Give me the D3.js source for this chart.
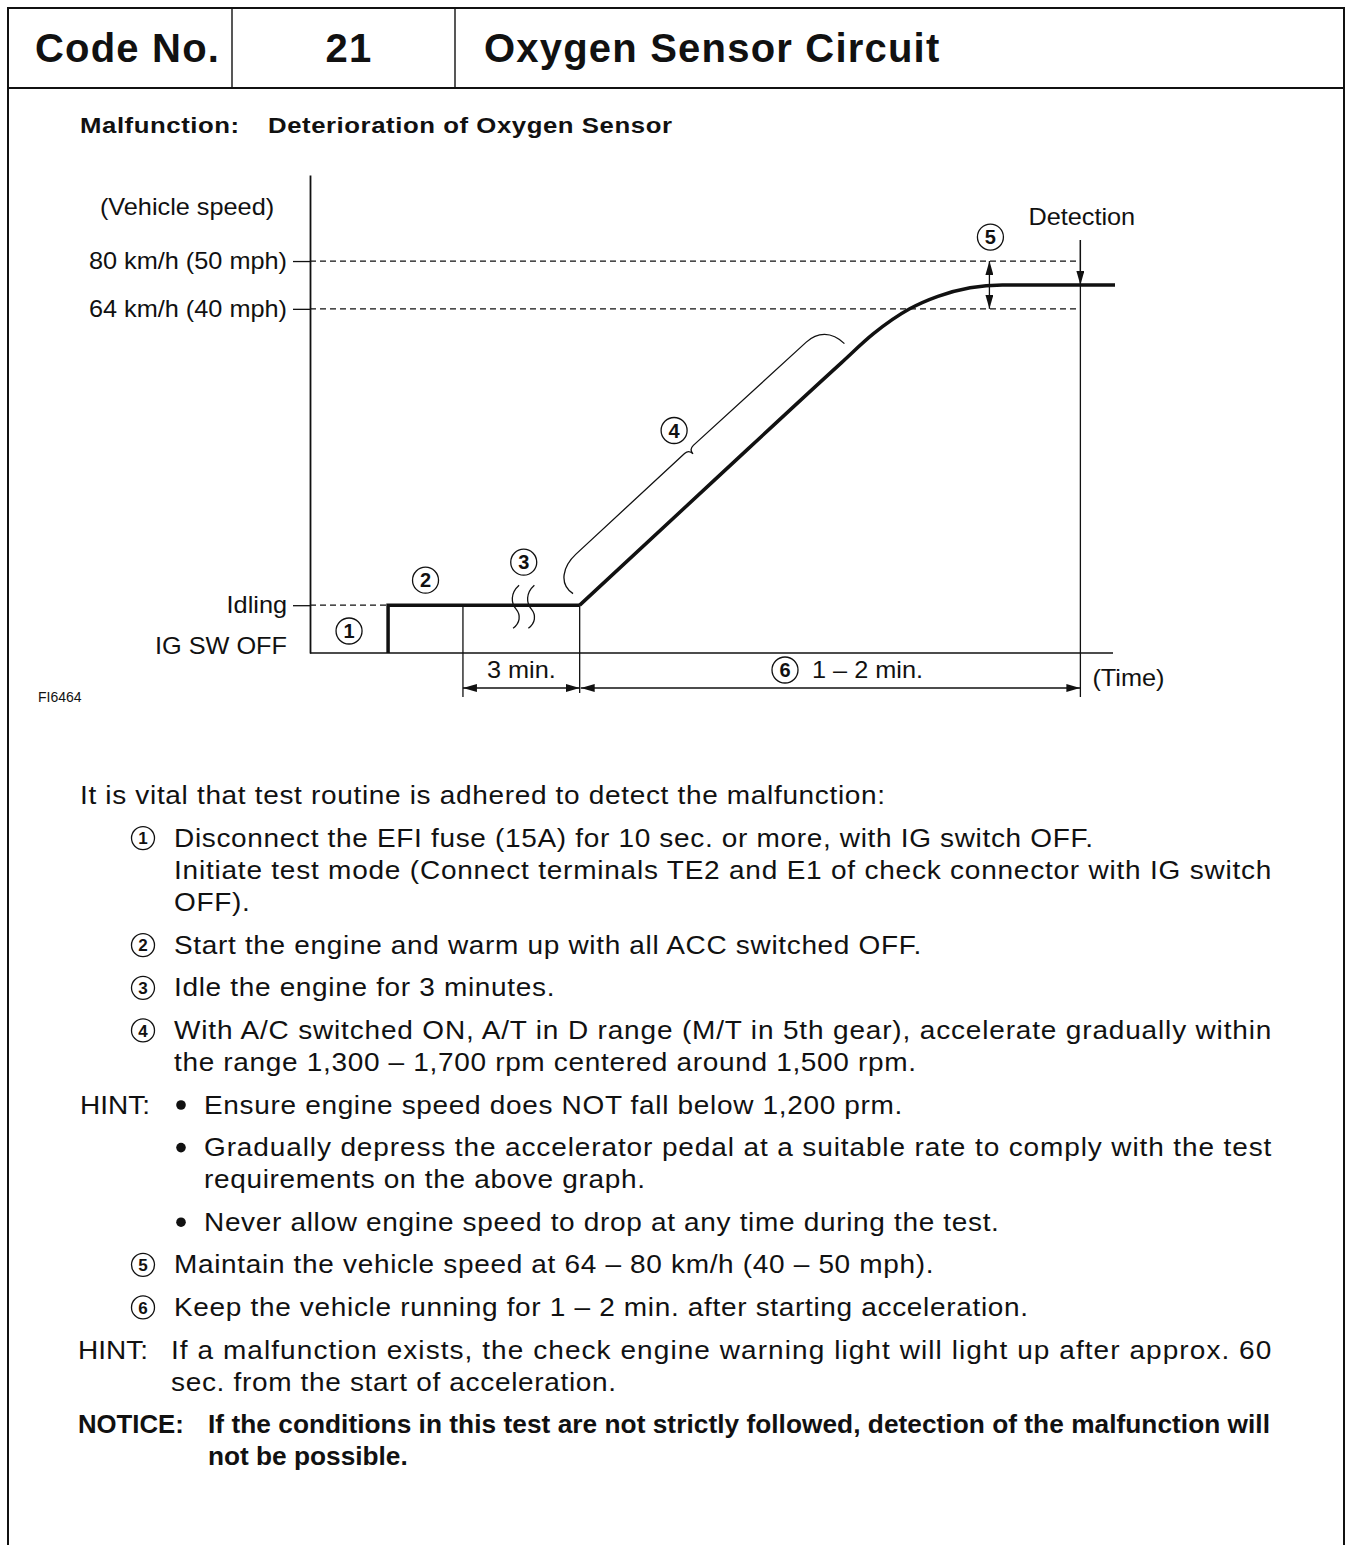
<!DOCTYPE html>
<html>
<head>
<meta charset="utf-8">
<title>Code No. 21 - Oxygen Sensor Circuit</title>
<script src="https://cdn.jsdelivr.net/npm/d3@7"></script>
<style>
body { margin: 0; background: #fff; }
svg text { font-family: "Liberation Sans", Arial, Helvetica, sans-serif; fill: #111; }
</style>
</head>
<body>
<div id="page"></div>
<script>
// ---- chart values (time and speed level are schematic units, 0-100) ----
var speedLabels = ["Idling", "64 km/h (40 mph)", "80 km/h (50 mph)"];
var speedLevels = [10, 72, 82];
var offLabel = "IG SW OFF";
var idleLevel = 10;

var startTime = 9.7;      // engine started
var idleMarkTime = 19;    // 3 min idle starts
var breakTimes = [25.6, 27.5];
var accelTime = 33.5;     // acceleration starts
var bandTime = 84.4;      // (5) arrows
var detectTime = 95.7;    // detection

var stepTime = [startTime, startTime, accelTime];
var stepLevel = [0, idleLevel, idleLevel];

var rampTime = [33.5, 50, 66, 70, 74.5, 78, 82, 86, 100];
var rampLevel = [10, 35.8, 60.7, 66.8, 72, 74.6, 76.4, 77, 77];

var durationLabels = ["3 min.", "1 – 2 min."];

// ---- text ----
var headCode = "Code No.";
var headNumber = "21";
var headTitle = "Oxygen Sensor Circuit";
var malfLabel = "Malfunction:";
var malfText = "Deterioration of Oxygen Sensor";
var figId = "FI6464";

var paragraphs = [
  {kind: "intro", lines: ["It is vital that test routine is adhered to detect the malfunction:"]},
  {kind: "step", mark: "1", lines: ["Disconnect the EFI fuse (15A) for 10 sec. or more, with IG switch OFF."]},
  {kind: "cont", lines: ["Initiate test mode (Connect terminals TE2 and E1 of check connector with IG switch", "OFF)."]},
  {kind: "step", mark: "2", lines: ["Start the engine and warm up with all ACC switched OFF."]},
  {kind: "step", mark: "3", lines: ["Idle the engine for 3 minutes."]},
  {kind: "step", mark: "4", lines: ["With A/C switched ON, A/T in D range (M/T in 5th gear), accelerate gradually within", "the range 1,300 – 1,700 rpm centered around 1,500 rpm."]},
  {kind: "bullet", label: "HINT:", lines: ["Ensure engine speed does NOT fall below 1,200 prm."]},
  {kind: "bullet", lines: ["Gradually depress the accelerator pedal at a suitable rate to comply with the test", "requirements on the above graph."]},
  {kind: "bullet", lines: ["Never allow engine speed to drop at any time during the test."]},
  {kind: "step", mark: "5", lines: ["Maintain the vehicle speed at 64 – 80 km/h (40 – 50 mph)."]},
  {kind: "step", mark: "6", lines: ["Keep the vehicle running for 1 – 2 min. after starting acceleration."]},
  {kind: "hint", label: "HINT:", lines: ["If a malfunction exists, the check engine warning light will light up after approx. 60", "sec. from the start of acceleration."]},
  {kind: "notice", label: "NOTICE:", lines: ["If the conditions in this test are not strictly followed, detection of the malfunction will", "not be possible."]}
];

// ---- page ----
var W = 1352, H = 1545;
var ink = "#111";
var svg = d3.select("#page").append("svg").attr("width", W).attr("height", H);
svg.append("rect").attr("width", W).attr("height", H).attr("fill", "#fff");

var defs = svg.append("defs");
defs.append("marker")
    .attr("id", "arrow")
    .attr("viewBox", "0 0 14 8")
    .attr("refX", 14).attr("refY", 4)
    .attr("markerWidth", 14).attr("markerHeight", 8)
    .attr("markerUnits", "userSpaceOnUse")
    .attr("orient", "auto-start-reverse")
    .append("path").attr("d", "M0,0L14,4L0,8z").attr("fill", ink);

// text helper: the scanned type is wider than Liberation Sans, so stretch it a bit
function label(g, tx, ty, str, sx, ls) {
    return g.append("text")
        .attr("transform", "translate(" + tx + "," + ty + ") scale(" + sx + ",1)")
        .style("letter-spacing", ls + "px")
        .text(str);
}

// frame and header
var frame = svg.append("g").attr("stroke", ink).attr("fill", "none");
frame.append("path").attr("d", "M8,1545V8H1344V1545").attr("stroke-width", 2);
frame.append("line").attr("x1", 8).attr("x2", 1344).attr("y1", 88).attr("y2", 88).attr("stroke-width", 2);
[232, 455].forEach(function (xx) {
    frame.append("line").attr("x1", xx).attr("x2", xx).attr("y1", 8).attr("y2", 88).attr("stroke-width", 1.4);
});

var head = svg.append("g").attr("font-weight", "bold").attr("font-size", 40);
label(head, 35, 62, headCode, 1, 1.2);
label(head, 349, 62, headNumber, 1, 1.2).attr("text-anchor", "middle");
label(head, 484, 62, headTitle, 1, 1.2);

var malf = svg.append("g").attr("font-weight", "bold").attr("font-size", 23);
label(malf, 80, 133, malfLabel, 1.12, 0.5);
label(malf, 268, 133, malfText, 1.12, 0.5);

// ---- chart ----
var x = d3.scaleLinear().domain([0, 100]).range([310, 1115]);
var y = d3.scaleLinear().domain([0, 100]).range([653, 175]);
var chart = svg.append("g");
var labelFont = 23, labelSx = 1.1;

// reference dashed lines
var dashes = chart.append("g").attr("stroke", ink).attr("stroke-width", 1.2).attr("stroke-dasharray", "6,4");
speedLevels.forEach(function (lv) {
    var endT = lv === idleLevel ? startTime : detectTime;
    dashes.append("line")
        .attr("x1", x(0)).attr("x2", x(endT))
        .attr("y1", y(lv)).attr("y2", y(lv));
});

// y axis
var yAxis = d3.axisLeft(y)
    .tickValues(speedLevels)
    .tickFormat(function (d, i) { return speedLabels[i]; })
    .tickSize(17).tickPadding(6).tickSizeOuter(0);
var gy = chart.append("g").attr("transform", "translate(" + x(0) + ",0)").call(yAxis);
gy.select(".domain").attr("stroke", ink).attr("stroke-width", 1.8);
gy.selectAll(".tick line").attr("stroke", ink).attr("stroke-width", 1.3);
gy.selectAll(".tick text")
    .attr("font-size", labelFont).attr("fill", ink)
    .attr("font-family", "Liberation Sans, Arial, sans-serif")
    .attr("x", -23 / labelSx)
    .attr("transform", "scale(" + labelSx + ",1)");

// x axis (no ticks)
var xAxis = d3.axisBottom(x).tickValues([]).tickSizeOuter(0);
var gx = chart.append("g").attr("transform", "translate(0," + y(0) + ")").call(xAxis);
gx.select(".domain").attr("stroke", ink).attr("stroke-width", 1.5).attr("d", "M" + x(0) + ",0H" + (x(100) - 2));

// axis captions
var cap = chart.append("g").attr("font-size", labelFont);
label(cap, 187, 215, "(Vehicle speed)", labelSx, 0).attr("text-anchor", "middle");
label(cap, 287, y(0) + 1, offLabel, labelSx, 0).attr("text-anchor", "end");
label(cap, x(detectTime) - 52, 225, "Detection", labelSx, 0);
label(cap, x(detectTime) + 12, 686, "(Time)", labelSx, 0);
label(cap, (x(idleMarkTime) + x(accelTime)) / 2, 678, durationLabels[0], labelSx, 0).attr("text-anchor", "middle");
label(cap, 812, 678, durationLabels[1], labelSx, 0);
svg.append("text").attr("x", 38).attr("y", 702).attr("font-size", 14).text(figId);

// extension lines
var thin = chart.append("g").attr("stroke", ink).attr("stroke-width", 1.3).attr("fill", "none");
thin.append("line").attr("x1", x(idleMarkTime)).attr("x2", x(idleMarkTime)).attr("y1", y(idleLevel)).attr("y2", 697);
thin.append("line").attr("x1", x(accelTime)).attr("x2", x(accelTime)).attr("y1", y(idleLevel)).attr("y2", 693);
thin.append("line").attr("x1", x(detectTime)).attr("x2", x(detectTime)).attr("y1", 240).attr("y2", 697);

// arrows
thin.append("line").attr("x1", x(detectTime)).attr("x2", x(detectTime))
    .attr("y1", 240).attr("y2", y(77)).attr("marker-end", "url(#arrow)");
thin.append("line").attr("x1", x(bandTime)).attr("x2", x(bandTime))
    .attr("y1", y(77)).attr("y2", y(82)).attr("marker-end", "url(#arrow)");
thin.append("line").attr("x1", x(bandTime)).attr("x2", x(bandTime))
    .attr("y1", y(77)).attr("y2", y(72)).attr("marker-end", "url(#arrow)");
thin.append("line").attr("x1", x(idleMarkTime)).attr("x2", x(accelTime))
    .attr("y1", 688).attr("y2", 688)
    .attr("marker-start", "url(#arrow)").attr("marker-end", "url(#arrow)");
thin.append("line").attr("x1", x(accelTime) + 1).attr("x2", x(detectTime))
    .attr("y1", 688).attr("y2", 688)
    .attr("marker-start", "url(#arrow)").attr("marker-end", "url(#arrow)");

// speed trace
var stepLine = d3.line()
    .x(function (d, i) { return x(stepTime[i]); })
    .y(function (d, i) { return y(stepLevel[i]); });
chart.append("path").datum(stepTime)
    .attr("d", stepLine).attr("fill", "none").attr("stroke", ink)
    .attr("stroke-width", 3.5).attr("stroke-linejoin", "miter");

var rampLine = d3.line()
    .x(function (d, i) { return x(rampTime[i]); })
    .y(function (d, i) { return y(rampLevel[i]); })
    .curve(d3.curveMonotoneX);
chart.append("path").datum(rampTime)
    .attr("d", rampLine).attr("fill", "none").attr("stroke", ink)
    .attr("stroke-width", 3.5).attr("stroke-linecap", "butt");

// break marks on the idle line
breakTimes.forEach(function (t) {
    var bx = x(t), by = y(idleLevel);
    thin.append("path")
        .attr("d", "M" + (bx + 3) + "," + (by - 20) +
            "C" + (bx - 6) + "," + (by - 12) + " " + (bx - 5) + "," + (by - 2) + " " + bx + "," + (by + 4) +
            "S" + (bx + 4) + "," + (by + 18) + " " + (bx - 3) + "," + (by + 23));
});

// brace along the ramp (drawn in a frame rotated to the ramp)
var rx0 = x(rampTime[0]), ry0 = y(rampLevel[0]);
var rx1 = x(rampTime[2]), ry1 = y(rampLevel[2]);
var ang = Math.atan2(ry1 - ry0, rx1 - rx0) * 180 / Math.PI;
var brace = chart.append("g").attr("transform", "translate(" + rx0 + "," + ry0 + ") rotate(" + ang + ")");
brace.append("path")
    .attr("fill", "none").attr("stroke", ink).attr("stroke-width", 1.3)
    .attr("d", "M3,-13C-1,-30 14,-40 32,-40L180,-40Q186,-40 186,-34Q186,-40 192,-40L345,-39C360,-39 371,-30 372,-12");

// numbered circles
function circledNumber(g, cx, cy, r, fs, n) {
    g.append("circle").attr("cx", cx).attr("cy", cy).attr("r", r)
        .attr("fill", "#fff").attr("stroke", ink).attr("stroke-width", 1.3);
    g.append("text").attr("x", cx).attr("y", cy).attr("dy", "0.36em")
        .attr("text-anchor", "middle").attr("font-size", fs).attr("font-weight", "bold")
        .style("letter-spacing", "0px").text(n);
}
var marks = chart.append("g");
circledNumber(marks, (x(0) + x(startTime)) / 2, y(4.6), 13, 20, "1");
circledNumber(marks, (x(startTime) + x(idleMarkTime)) / 2, y(idleLevel) - 25, 13, 20, "2");
circledNumber(marks, (x(breakTimes[0]) + x(breakTimes[1])) / 2, y(idleLevel) - 43, 13, 20, "3");
var a = ang * Math.PI / 180;
circledNumber(marks, rx0 + 188 * Math.cos(a) + 64 * Math.sin(a), ry0 + 188 * Math.sin(a) - 64 * Math.cos(a), 13, 20, "4");
circledNumber(marks, x(bandTime) + 1, y(82) - 24, 13, 20, "5");
circledNumber(marks, 785, 670, 13, 20, "6");

// ---- instructions ----
var body = svg.append("g").attr("font-size", 25);
var bodySx = 1.12, bodyLs = 0.6;
var yy = 804;
var rightEdge = 1272;
paragraphs.forEach(function (p, pi) {
    if (pi > 0) yy += (p.kind === "cont") ? 32.5 : 42.6;
    var tx = 174;
    var bold = false;
    if (p.kind === "intro") tx = 80;
    if (p.kind === "step") {
        circledNumber(body, 143, yy - 8.5, 11.5, 17, p.mark);
    }
    if (p.kind === "bullet") {
        tx = 204;
        if (p.label) label(body, 80, yy, p.label, bodySx, 0);
        body.append("circle").attr("cx", 181).attr("cy", yy - 8.5).attr("r", 4.8).attr("fill", ink);
    }
    if (p.kind === "hint") {
        tx = 171;
        label(body, 78, yy, p.label, bodySx, 0);
    }
    if (p.kind === "notice") {
        tx = 208;
        bold = true;
        label(body, 78, yy, p.label, 1.03, 0).attr("font-weight", "bold");
    }
    p.lines.forEach(function (ln, li) {
        if (li > 0) yy += 32;
        var sx = bold ? 1.05 : bodySx;
        var t = label(body, tx, yy, ln, sx, bold ? 0 : bodyLs);
        if (bold) t.attr("font-weight", "bold");
        if (li < p.lines.length - 1) {
            t.attr("textLength", ((bold ? rightEdge - 2 : rightEdge) - tx) / sx).attr("lengthAdjust", "spacing");
        }
    });
});
</script>
</body>
</html>
